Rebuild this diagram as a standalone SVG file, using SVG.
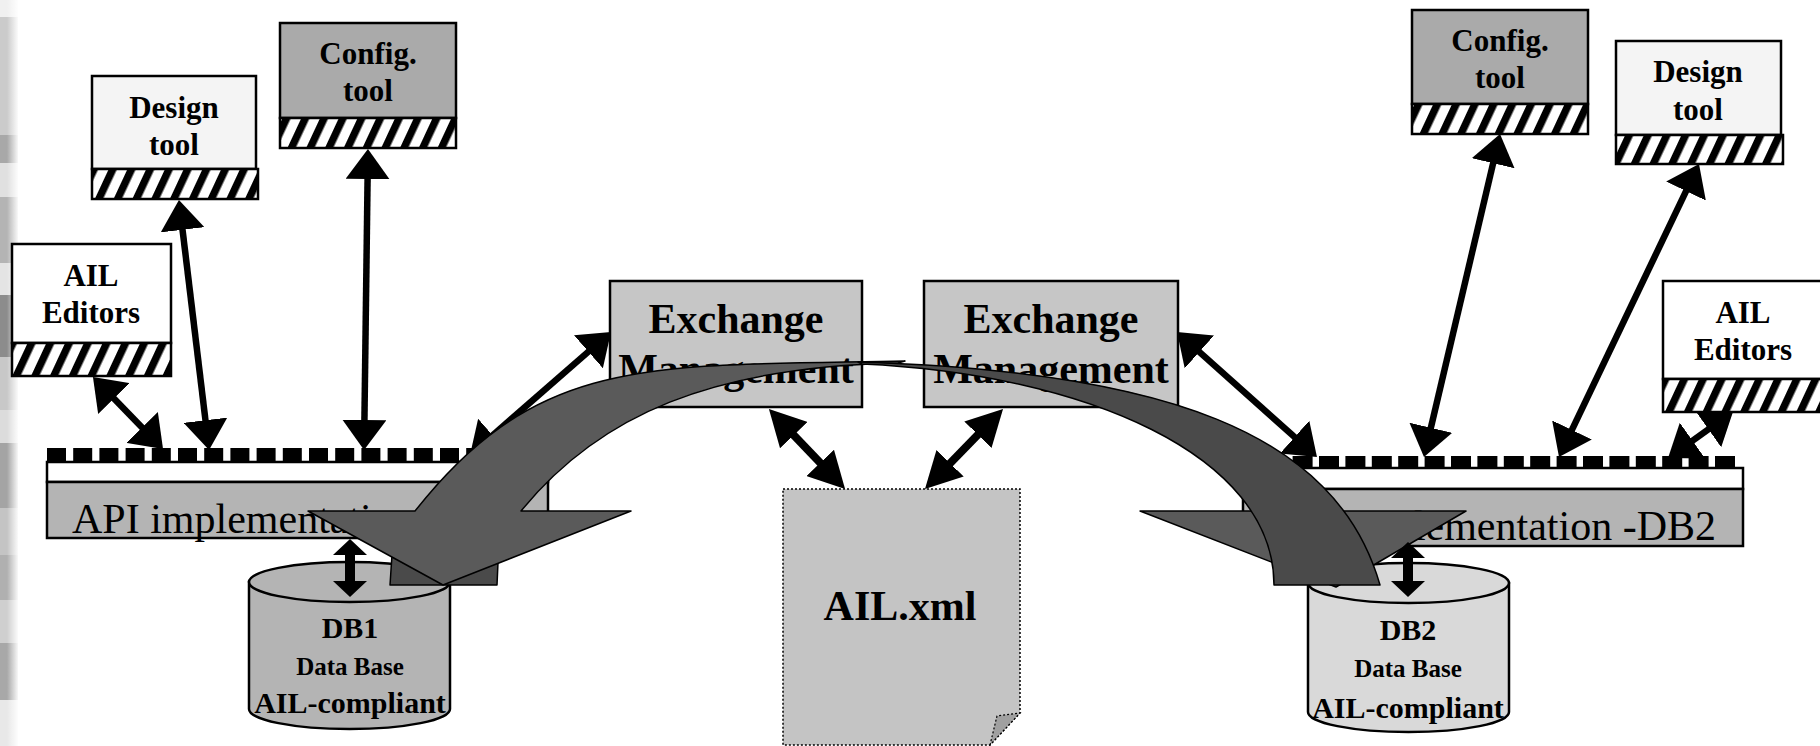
<svg xmlns="http://www.w3.org/2000/svg" width="1820" height="746" viewBox="0 0 1820 746">
<style>
.box{stroke:#000;stroke-width:2.5}
.lbl{font-family:"Liberation Serif","Times New Roman",serif;font-weight:bold;text-anchor:middle;fill:#000}
.t31{font-size:31px}
.t42{font-size:42px}
.api{font-family:"Liberation Serif","Times New Roman",serif;font-size:42px;fill:#000}
.sq{fill:#000}
.big{stroke:#000;stroke-width:6.5;fill:none;marker-start:url(#mBig);marker-end:url(#mBig)}
.mid{stroke:#000;stroke-width:8;fill:none;marker-start:url(#mMid);marker-end:url(#mMid)}
.db{stroke:#000;stroke-width:10;fill:none;marker-start:url(#mDb);marker-end:url(#mDb)}
.curve{stroke:#000;stroke-width:1.5;stroke-linejoin:round}
</style>
<defs>
<pattern id="hatch" patternUnits="userSpaceOnUse" width="17" height="17" patternTransform="rotate(25)">
<rect width="17" height="17" fill="#fff"/><rect width="7.5" height="17" fill="#000"/>
</pattern>
<linearGradient id="fade" x1="0" x2="1" y1="0" y2="0">
<stop offset="0" stop-color="#fff" stop-opacity="0"/><stop offset="1" stop-color="#fff" stop-opacity="1"/>
</linearGradient>
<marker id="mBig" markerUnits="userSpaceOnUse" viewBox="0 0 30 44" markerWidth="30" markerHeight="44" refX="2" refY="22" orient="auto-start-reverse"><path d="M0,0 L30,22 L0,44 Z" fill="#000"/></marker>
<marker id="mMid" markerUnits="userSpaceOnUse" viewBox="0 0 36 38" markerWidth="36" markerHeight="38" refX="2" refY="19" orient="auto-start-reverse"><path d="M0,0 L36,19 L0,38 Z" fill="#000"/></marker>
<marker id="mDb" markerUnits="userSpaceOnUse" viewBox="0 0 16 34" markerWidth="16" markerHeight="34" refX="2" refY="17" orient="auto-start-reverse"><path d="M0,0 L16,17 L0,34 Z" fill="#000"/></marker>
</defs>
<rect width="1820" height="746" fill="#fff"/>
<g id="edge-strip">
<rect x="0" y="0" width="18" height="17" fill="#f0f0f0"/>
<rect x="0" y="17" width="18" height="118" fill="#cbcbcb"/>
<rect x="0" y="135" width="18" height="28" fill="#a8a8a8"/>
<rect x="0" y="163" width="18" height="34" fill="#e0e0e0"/>
<rect x="0" y="197" width="18" height="66" fill="#b4b4b4"/>
<rect x="0" y="263" width="18" height="32" fill="#e4e4e4"/>
<rect x="0" y="295" width="18" height="62" fill="#8c8c8c"/>
<rect x="0" y="357" width="18" height="53" fill="#c8c8c8"/>
<rect x="0" y="410" width="18" height="33" fill="#dcdcdc"/>
<rect x="0" y="443" width="18" height="65" fill="#a4a4a4"/>
<rect x="0" y="508" width="18" height="47" fill="#c4c4c4"/>
<rect x="0" y="555" width="18" height="45" fill="#b0b0b0"/>
<rect x="0" y="600" width="18" height="43" fill="#cfcfcf"/>
<rect x="0" y="643" width="18" height="57" fill="#a8a8a8"/>
<rect x="0" y="700" width="18" height="46" fill="#e8e8e8"/>
<rect x="7" y="0" width="12" height="746" fill="url(#fade)"/>
</g>

<g id="design-tool-left">
<rect class="box" x="92" y="76" width="164" height="93" fill="#f4f4f4"/>
<rect class="box" x="92" y="169" width="166" height="30" fill="url(#hatch)"/>
<text class="lbl t31" x="174" y="118">Design</text>
<text class="lbl t31" x="174" y="155">tool</text>
</g>
<g id="config-tool-left">
<rect class="box" x="280" y="23" width="176" height="95" fill="#aaaaaa"/>
<rect class="box" x="280" y="118" width="176" height="30" fill="url(#hatch)"/>
<text class="lbl t31" x="368" y="64">Config.</text>
<text class="lbl t31" x="368" y="101">tool</text>
</g>
<g id="ail-editors-left">
<rect class="box" x="12" y="244" width="159" height="99" fill="#fff"/>
<rect class="box" x="12" y="343" width="159" height="33" fill="url(#hatch)"/>
<text class="lbl t31" x="91" y="286">AIL</text>
<text class="lbl t31" x="91" y="323">Editors</text>
</g>
<g id="config-tool-right">
<rect class="box" x="1412" y="10" width="176" height="94" fill="#aaaaaa"/>
<rect class="box" x="1412" y="104" width="176" height="30" fill="url(#hatch)"/>
<text class="lbl t31" x="1500" y="51">Config.</text>
<text class="lbl t31" x="1500" y="88">tool</text>
</g>
<g id="design-tool-right">
<rect class="box" x="1616" y="41" width="165" height="94" fill="#f4f4f4"/>
<rect class="box" x="1616" y="135" width="167" height="29" fill="url(#hatch)"/>
<text class="lbl t31" x="1698" y="82">Design</text>
<text class="lbl t31" x="1698" y="120">tool</text>
</g>
<g id="ail-editors-right">
<rect class="box" x="1663" y="281" width="172" height="98" fill="#fff"/>
<rect class="box" x="1663" y="379" width="172" height="33" fill="url(#hatch)"/>
<text class="lbl t31" x="1743" y="323">AIL</text>
<text class="lbl t31" x="1743" y="360">Editors</text>
</g>

<g id="api-left">
<g class="sq">
<rect x="47" y="448" width="19" height="14"/><rect x="73.2" y="448" width="19" height="14"/><rect x="99.4" y="448" width="19" height="14"/><rect x="125.6" y="448" width="19" height="14"/><rect x="151.8" y="448" width="19" height="14"/><rect x="178" y="448" width="19" height="14"/><rect x="204.2" y="448" width="19" height="14"/><rect x="230.4" y="448" width="19" height="14"/><rect x="256.6" y="448" width="19" height="14"/><rect x="282.8" y="448" width="19" height="14"/><rect x="309" y="448" width="19" height="14"/><rect x="335.2" y="448" width="19" height="14"/><rect x="361.4" y="448" width="19" height="14"/><rect x="387.6" y="448" width="19" height="14"/><rect x="413.8" y="448" width="19" height="14"/><rect x="440" y="448" width="19" height="14"/><rect x="466.2" y="448" width="19" height="14"/><rect x="492.4" y="448" width="19" height="14"/>
</g>
<rect class="box" x="47" y="462" width="501" height="20" fill="#fff"/>
<rect class="box" x="47" y="482" width="501" height="56" fill="#b4b4b4"/>
<text class="api" x="72" y="533">API implementation -DB1</text>
</g>
<g id="api-right">
<g class="sq">
<rect x="1292.6" y="456" width="20" height="12"/><rect x="1319" y="456" width="20" height="12"/><rect x="1345.4" y="456" width="20" height="12"/><rect x="1371.8" y="456" width="20" height="12"/><rect x="1398.2" y="456" width="20" height="12"/><rect x="1424.6" y="456" width="20" height="12"/><rect x="1451" y="456" width="20" height="12"/><rect x="1477.4" y="456" width="20" height="12"/><rect x="1503.8" y="456" width="20" height="12"/><rect x="1530.2" y="456" width="20" height="12"/><rect x="1556.6" y="456" width="20" height="12"/><rect x="1583" y="456" width="20" height="12"/><rect x="1609.4" y="456" width="20" height="12"/><rect x="1635.8" y="456" width="20" height="12"/><rect x="1662.2" y="456" width="20" height="12"/><rect x="1688.6" y="456" width="20" height="12"/><rect x="1715" y="456" width="20" height="12"/>
</g>
<rect class="box" x="1243" y="468" width="500" height="21" fill="#fff"/>
<rect class="box" x="1243" y="489" width="500" height="57" fill="#b4b4b4"/>
<text class="api" x="1716" y="540" text-anchor="end">API implementation -DB2</text>
</g>

<g id="exchange-left">
<rect class="box" x="610" y="281" width="252" height="126" fill="#c6c6c6"/>
<text class="lbl t42" x="736" y="333">Exchange</text>
<text class="lbl t42" x="736" y="383">Management</text>
</g>
<g id="exchange-right">
<rect class="box" x="924" y="281" width="254" height="126" fill="#c6c6c6"/>
<text class="lbl t42" x="1051" y="333">Exchange</text>
<text class="lbl t42" x="1051" y="383">Management</text>
</g>

<g id="ail-xml">
<path d="M783,489 H1020 V713 L990,745 H783 Z" fill="#c4c4c4" stroke="#000" stroke-width="1.5" stroke-dasharray="2,2"/>
<path d="M990,745 L997,716 L1020,713 Z" fill="#a0a0a0" stroke="#000" stroke-width="1.2" stroke-dasharray="2,2"/>
<text class="lbl t42" x="900" y="620">AIL.xml</text>
</g>

<g id="db1">
<path class="box" d="M249,582 V709 A100.5,20 0 0 0 450,709 V582 Z" fill="#b4b4b4" stroke-width="2"/>
<ellipse class="box" cx="349.5" cy="582" rx="100.5" ry="20" fill="#b4b4b4" stroke-width="2"/>
<text class="lbl" x="350" y="638" font-size="30">DB1</text>
<text class="lbl" x="350" y="675" font-size="25">Data Base</text>
<text class="lbl" x="350" y="713" font-size="30">AIL-compliant</text>
</g>
<g id="db2">
<path class="box" d="M1308,583 V712 A100.5,20 0 0 0 1509,712 V583 Z" fill="#d9d9d9" stroke-width="2"/>
<ellipse class="box" cx="1408.5" cy="583" rx="100.5" ry="20" fill="#d9d9d9" stroke-width="2"/>
<text class="lbl" x="1408" y="640" font-size="30">DB2</text>
<text class="lbl" x="1408" y="677" font-size="25">Data Base</text>
<text class="lbl" x="1408" y="718" font-size="30">AIL-compliant</text>
</g>

<g id="connectors">
<line class="big" x1="112.5" y1="397.1" x2="143.5" y2="428.9"/>
<line class="big" x1="182.3" y1="227.8" x2="205.7" y2="422.2"/>
<line class="big" x1="367.6" y1="177" x2="364.4" y2="422"/>
<line class="big" x1="491.1" y1="436.6" x2="589.9" y2="350.4"/>
<line class="big" x1="1197.9" y1="350.6" x2="1296.1" y2="438.4"/>
<line class="big" x1="1493.6" y1="161.3" x2="1430.4" y2="429.7"/>
<line class="big" x1="1686.9" y1="189.3" x2="1571.1" y2="431.7"/>
<line class="big" x1="1710.1" y1="428.2" x2="1690.9" y2="441.8"/>
<line class="mid" x1="792.4" y1="433.7" x2="821.6" y2="464.3"/>
<line class="mid" x1="979.3" y1="433.3" x2="948.7" y2="464.7"/>
<g id="exchange-arrow-left">
<polygon class="curve" points="393,540 390,585 497,585 499,540" fill="#4a4a4a"/>
<path class="curve" d="M308,511 L415,511 C539,354 650,366 905,361 L898,363 C713,367 600,414 521,511 L631,511 L443,585 Z" fill="#5a5a5a"/>
</g>
<g id="exchange-arrow-right">
<polygon class="curve" points="1140,511 1466,511 1336,587" fill="#5a5a5a"/>
<path class="curve" d="M858,362 C1162,371 1336,431 1380,585 L1274,585 C1274,455 1085,374 862,364 Z" fill="#4a4a4a"/>
</g>
<line class="db" x1="350" y1="553" x2="350" y2="583"/>
<line class="db" x1="1408" y1="556" x2="1408" y2="583"/>
</g>
</svg>
